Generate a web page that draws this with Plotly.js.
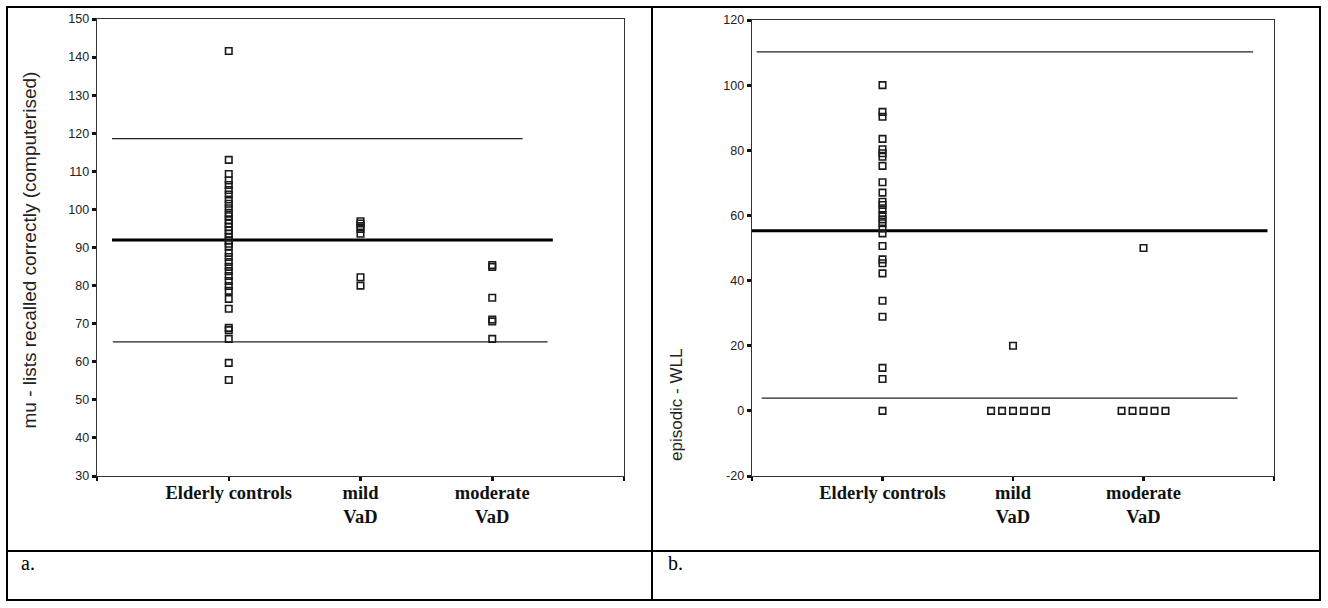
<!DOCTYPE html>
<html><head><meta charset="utf-8">
<script src="https://cdn.plot.ly/plotly-3.0.1.min.js"></script>
<style>html,body{margin:0;padding:0;background:#fff;} #chart{width:1328px;height:608px;}</style>
</head><body><div id="chart"></div>
<script>
// ---------- data ----------
const categories = ['Elderly controls', 'mild VaD', 'moderate VaD'];
const categoryTickText = ['Elderly controls', 'mild<br>VaD', 'moderate<br>VaD'];

// panel a: mu - lists recalled correctly (computerised)
const muElderly = [141.6, 113.0, 109.3, 107.6, 106.4, 105.1, 103.9, 102.6, 101.5, 100.3, 99.1, 98.2,
                   97.2, 96.3, 95.4, 94.5, 93.6, 92.7, 91.8, 91.0, 90.2, 88.6, 87.5, 86.2, 84.9,
                   83.8, 82.5, 81.2, 79.9, 78.6, 76.5, 73.9, 68.9, 68.3, 66.0, 59.7, 55.2];
const muMild = [96.9, 96.3, 95.6, 94.9, 93.6, 82.2, 80.0];
const muModerate = [85.4, 84.9, 76.8, 71.1, 70.6, 66.0];
const muReference = [118.6, 92.0, 65.2];   // upper, mean, lower
const muTicks = [30, 40, 50, 60, 70, 80, 90, 100, 110, 120, 130, 140, 150];

// panel b: episodic - WLL
const wllElderly = [100, 91.8, 90.3, 83.5, 80.3, 79.1, 78.0, 75.2, 70.2, 67.0, 64.2, 63.2, 61.7,
                    60.1, 58.8, 57.6, 56.0, 54.5, 50.6, 46.5, 45.3, 42.2, 33.8, 28.9, 13.2, 9.8, 0];
const wllMild = [20, 0, 0, 0, 0, 0, 0];
const wllModerate = [50, 0, 0, 0, 0, 0];
const wllReference = [110.2, 55.3, 3.9];   // upper, mean, lower
const wllTicks = [-20, 0, 20, 40, 60, 80, 100, 120];

const panelLabels = ['a.', 'b.'];

// ---------- helpers ----------
const W = 1328, H = 608;
const px = v => v / W, py = v => 1 - v / H;

function stackTies(values, center, step) {
  const counts = {}; values.forEach(v => counts[v] = (counts[v] || 0) + 1);
  const seen = {};
  return values.map(v => {
    const n = counts[v];
    const k = seen[v] = (seen[v] === undefined ? 0 : seen[v] + 1);
    return center + (k - Math.floor((n - 1) / 2)) * step;
  });
}

const markerStyle = {symbol: 'square-open', size: 6.5, color: '#1a1a1a', line: {width: 1.6, color: '#1a1a1a'}};

function pointTraces(groups, xa, ya, step) {
  return groups.map((vals, i) => ({
    type: 'scatter', mode: 'markers', xaxis: xa, yaxis: ya,
    x: stackTies(vals, i + 1, step), y: vals, name: categories[i],
    marker: markerStyle, hoverinfo: 'y', showlegend: false, cliponaxis: false
  }));
}

function refTraces(values, starts, ends, widths, xa, ya) {
  return values.map((v, i) => ({
    type: 'scatter', mode: 'lines', xaxis: xa, yaxis: ya,
    x: [starts[i], ends[i]], y: [v, v],
    line: {color: i === 1 ? '#000' : '#222', width: widths[i]},
    hoverinfo: 'skip', showlegend: false
  }));
}

const traces = [
  ...refTraces(muReference, [0.114, 0.114, 0.12], [3.23, 3.46, 3.42], [1.3, 3, 1.3], 'x', 'y'),
  ...pointTraces([muElderly, muMild, muModerate], 'x', 'y', 0.084),
  ...refTraces(wllReference, [0.036, 0.0, 0.074], [3.84, 3.95, 3.72], [1.3, 3, 1.3], 'x2', 'y2'),
  ...pointTraces([wllElderly, wllMild, wllModerate], 'x2', 'y2', 0.084)
];

const tickFontY = {family: 'Liberation Sans, Arial, sans-serif', size: 12.5, color: '#222'};
const tickFontX = {family: 'Liberation Serif, Times New Roman, serif', size: 18.5, color: '#111', weight: 'bold'};

function xAxis(domain, anchor) {
  return {domain: domain, anchor: anchor, range: [0, 4], tickmode: 'array',
    tickvals: [0, 1, 2, 3, 4], ticktext: ['', ...categoryTickText, ''],
    ticks: 'outside', ticklen: 4, tickwidth: 2.5, tickcolor: '#111', ticklabelstandoff: -5,
    showline: true, linecolor: '#333', linewidth: 1.3, mirror: true,
    showgrid: false, zeroline: false, tickfont: tickFontX, fixedrange: true};
}
function yAxis(domain, anchor, range, ticks) {
  return {domain: domain, anchor: anchor, range: range, tickmode: 'array', tickvals: ticks,
    ticktext: ticks.map(String),
    ticks: 'outside', ticklen: 4, tickwidth: 3, tickcolor: '#111',
    showline: true, linecolor: '#333', linewidth: 1.3, mirror: true,
    showgrid: false, zeroline: false, tickfont: tickFontY, fixedrange: true};
}

const layout = {
  width: W, height: H, margin: {l: 0, r: 0, t: 0, b: 0},
  paper_bgcolor: '#fff', plot_bgcolor: '#fff', showlegend: false,
  xaxis: xAxis([px(97), px(624)], 'y'),
  yaxis: yAxis([py(476), py(19)], 'x', [30, 150], muTicks),
  xaxis2: xAxis([px(752), px(1274)], 'y2'),
  yaxis2: yAxis([py(476), py(20)], 'x2', [-20, 120], wllTicks),
  shapes: [
    {type: 'rect', xref: 'paper', yref: 'paper', x0: px(7), x1: px(1320), y0: py(600), y1: py(7), line: {color: '#000', width: 2}},
    {type: 'line', xref: 'paper', yref: 'paper', x0: px(7), x1: px(1320), y0: py(551), y1: py(551), line: {color: '#000', width: 2}},
    {type: 'line', xref: 'paper', yref: 'paper', x0: px(652), x1: px(652), y0: py(600), y1: py(7), line: {color: '#000', width: 2}}
  ],
  annotations: [
    {xref: 'paper', yref: 'paper', x: px(17), y: py(250), text: 'mu - lists recalled correctly (computerised)',
     textangle: -90, showarrow: false, font: {family: 'Liberation Sans, Arial, sans-serif', size: 19, color: '#222'}},
    {xref: 'paper', yref: 'paper', x: px(677), y: py(405), text: 'episodic - WLL',
     textangle: -90, showarrow: false, font: {family: 'Liberation Sans, Arial, sans-serif', size: 17, color: '#222'}},
    {xref: 'paper', yref: 'paper', x: px(19), y: py(576), xanchor: 'left', text: panelLabels[0],
     showarrow: false, font: {family: 'Liberation Serif, Times New Roman, serif', size: 20, color: '#000'}},
    {xref: 'paper', yref: 'paper', x: px(666), y: py(576), xanchor: 'left', text: panelLabels[1],
     showarrow: false, font: {family: 'Liberation Serif, Times New Roman, serif', size: 20, color: '#000'}}
  ]
};

Plotly.newPlot('chart', traces, layout, {displayModeBar: false, staticPlot: true});
</script>
</body></html>
